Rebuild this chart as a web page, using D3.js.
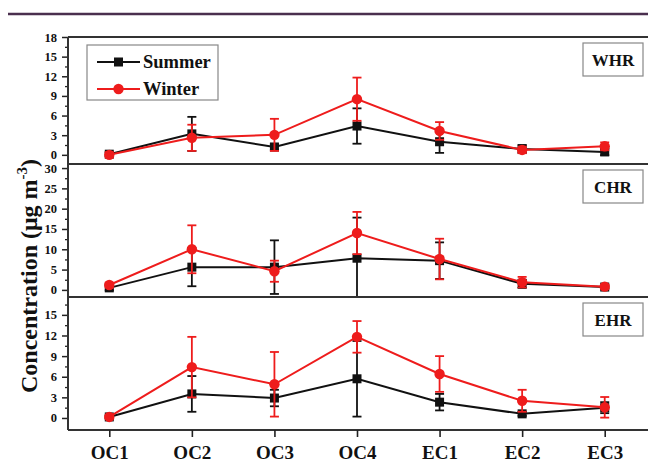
<!DOCTYPE html>
<html>
<head>
<meta charset="utf-8">
<script src="https://cdn.jsdelivr.net/npm/d3@7"></script>
<style>
  html, body { margin: 0; padding: 0; background: #fff; }
  svg { display: block; }
  text { font-family: "Liberation Serif", "Times New Roman", serif; font-weight: bold; fill: #111; }
</style>
</head>
<body>
<svg id="chart" width="648" height="462"></svg>
<script>
// Carbon fraction concentrations (µg m-3) at three sites, summer vs winter
const categories = ["OC1", "OC2", "OC3", "OC4", "EC1", "EC2", "EC3"];
const sites = ["WHR", "CHR", "EHR"];
const seasons = ["Summer", "Winter"];

const whrSummer    = [0.1, 3.2, 1.2, 4.4, 2.0, 0.9, 0.45];
const whrSummerErr = [0.3, 2.6, 0.4, 2.7, 1.7, 0.6, 0.5];
const whrWinter    = [0.0, 2.6, 3.05, 8.5, 3.65, 0.75, 1.3];
const whrWinterErr = [0.4, 2.0, 2.45, 3.3, 1.35, 0.5, 0.6];

const chrSummer    = [0.5, 5.6, 5.6, 7.8, 7.2, 1.5, 0.7];
const chrSummerErr = [0.6, 4.7, 6.6, 10.0, 4.5, 1.0, 0.4];
const chrWinter    = [1.2, 10.0, 4.6, 14.0, 7.6, 1.9, 0.8];
const chrWinterErr = [0.6, 5.9, 2.6, 5.2, 5.0, 1.3, 0.5];

const ehrSummer    = [0.15, 3.5, 2.9, 5.7, 2.3, 0.6, 1.5];
const ehrSummerErr = [0.2, 2.6, 1.2, 5.5, 1.2, 0.3, 0.8];
const ehrWinter    = [0.15, 7.4, 4.9, 11.8, 6.4, 2.5, 1.55];
const ehrWinterErr = [0.2, 4.4, 4.7, 2.3, 2.6, 1.6, 1.5];

const whrTicks = [0, 3, 6, 9, 12, 15, 18];
const chrTicks = [0, 5, 10, 15, 20, 25, 30];
const ehrTicks = [0, 3, 6, 9, 12, 15];

const panels = [
  { name: sites[0], summer: whrSummer, sErr: whrSummerErr, winter: whrWinter, wErr: whrWinterErr,
    ticks: whrTicks, minor: 1.5, domain: [-1.4, 18], top: 37, bottom: 164 },
  { name: sites[1], summer: chrSummer, sErr: chrSummerErr, winter: chrWinter, wErr: chrWinterErr,
    ticks: chrTicks, minor: 2.5, domain: [-1.75, 31], top: 164, bottom: 297 },
  { name: sites[2], summer: ehrSummer, sErr: ehrSummerErr, winter: ehrWinter, wErr: ehrWinterErr,
    ticks: ehrTicks, minor: 1.5, domain: [-1.75, 17.6], top: 297, bottom: 430 }
];

const colors = { Summer: "#111111", Winter: "#ee1c1c" };
const left = 68, right = 648;

const svg = d3.select("#chart");

// header rule
svg.append("line").attr("x1", 8).attr("x2", 648).attr("y1", 14).attr("y2", 14)
  .attr("stroke", "#4a2f4e").attr("stroke-width", 2.5);

const x = d3.scalePoint().domain(categories).range([left, 646]).padding(0.5);

panels.forEach((p, pi) => {
  const y = d3.scaleLinear().domain(p.domain).range([p.bottom, p.top]);
  const g = svg.append("g");

  const clipId = "clip" + pi;
  svg.append("clipPath").attr("id", clipId).append("rect")
    .attr("x", left).attr("y", p.top).attr("width", right - left).attr("height", p.bottom - p.top);

  // minor ticks
  const minorVals = d3.range(0, p.domain[1] + 0.001, p.minor).filter(v => !p.ticks.some(t => Math.abs(t - v) < 1e-6));
  g.append("g").attr("transform", `translate(${left},0)`)
    .call(d3.axisLeft(y).tickValues(minorVals).tickSize(3).tickFormat(""))
    .call(a => a.select(".domain").remove())
    .selectAll("line").attr("stroke", "#222").attr("stroke-width", 1.3);

  // major ticks with labels
  const ax = g.append("g").attr("transform", `translate(${left},0)`)
    .call(d3.axisLeft(y).tickValues(p.ticks).tickSize(6).tickPadding(5).tickFormat(d3.format("d")));
  ax.select(".domain").remove();
  ax.selectAll("line").attr("stroke", "#222").attr("stroke-width", 1.5);
  ax.selectAll("text").attr("font-size", 12.5).attr("font-family", "Liberation Serif, serif")
    .attr("font-weight", "bold").attr("fill", "#111");

  const plot = g.append("g").attr("clip-path", `url(#${clipId})`);

  seasons.forEach(season => {
    const vals = season === "Summer" ? p.summer : p.winter;
    const errs = season === "Summer" ? p.sErr : p.wErr;
    const col = colors[season];
    const pts = categories.map((c, i) => ({ c, v: vals[i], e: errs[i] }));

    // error bars
    const eb = plot.append("g").attr("stroke", col).attr("stroke-width", 1.8);
    pts.forEach(d => {
      eb.append("line").attr("x1", x(d.c)).attr("x2", x(d.c))
        .attr("y1", y(d.v - d.e)).attr("y2", y(d.v + d.e));
      [d.v - d.e, d.v + d.e].forEach(v => {
        eb.append("line").attr("x1", x(d.c) - 4.5).attr("x2", x(d.c) + 4.5)
          .attr("y1", y(v)).attr("y2", y(v));
      });
    });

    // connecting line
    plot.append("path").datum(pts)
      .attr("fill", "none").attr("stroke", col).attr("stroke-width", 2)
      .attr("d", d3.line().x(d => x(d.c)).y(d => y(d.v)));

    // markers
    if (season === "Summer") {
      plot.selectAll(null).data(pts).enter().append("rect")
        .attr("x", d => x(d.c) - 4.5).attr("y", d => y(d.v) - 4.5)
        .attr("width", 9).attr("height", 9).attr("fill", col);
    } else {
      plot.selectAll(null).data(pts).enter().append("circle")
        .attr("cx", d => x(d.c)).attr("cy", d => y(d.v)).attr("r", 5.2).attr("fill", col);
    }
  });

  // panel frame
  g.append("line").attr("x1", left).attr("x2", right).attr("y1", p.top).attr("y2", p.top)
    .attr("stroke", "#333").attr("stroke-width", 2);
  g.append("line").attr("x1", left).attr("x2", left).attr("y1", p.top).attr("y2", p.bottom)
    .attr("stroke", "#333").attr("stroke-width", 2);

  // site label
  const lb = g.append("g").attr("transform", `translate(583,${p.top + 6})`);
  lb.append("rect").attr("width", 60).attr("height", 33).attr("fill", "#fff")
    .attr("stroke", "#888").attr("stroke-width", 1.2);
  lb.append("text").attr("x", 30).attr("y", 22.5).attr("text-anchor", "middle")
    .attr("font-size", 17).text(p.name);
});

// bottom axis
const last = panels[panels.length - 1];
const xa = svg.append("g").attr("transform", `translate(0,${last.bottom})`)
  .call(d3.axisBottom(x).tickSize(7).tickPadding(9));
xa.select(".domain").attr("stroke", "#333").attr("stroke-width", 2).attr("d", `M${left},0H${right}`);
xa.selectAll("line").attr("stroke", "#222").attr("stroke-width", 1.6);
xa.selectAll("text").attr("font-size", 19).attr("font-family", "Liberation Serif, serif")
  .attr("font-weight", "bold").attr("fill", "#111");

// legend
const leg = svg.append("g").attr("transform", "translate(87,45)");
leg.append("rect").attr("width", 131).attr("height", 55).attr("fill", "#fff")
  .attr("stroke", "#888").attr("stroke-width", 1.2);
seasons.forEach((s, i) => {
  const yy = 17 + i * 27;
  leg.append("line").attr("x1", 10).attr("x2", 53).attr("y1", yy).attr("y2", yy)
    .attr("stroke", colors[s]).attr("stroke-width", 2);
  if (s === "Summer") {
    leg.append("rect").attr("x", 27).attr("y", yy - 4.5).attr("width", 9).attr("height", 9).attr("fill", colors[s]);
  } else {
    leg.append("circle").attr("cx", 31.5).attr("cy", yy).attr("r", 5.2).attr("fill", colors[s]);
  }
  leg.append("text").attr("x", 56).attr("y", yy + 6).attr("font-size", 18.5).text(s);
});

// y-axis title, rotated, with superscript exponent
const yt = svg.append("text").attr("transform", "translate(37,393) rotate(-90)")
  .attr("font-size", 24);
yt.append("tspan").text("Concentration (μg m");
yt.append("tspan").attr("dy", -10).attr("font-size", 15).text("-3");
yt.append("tspan").attr("dy", 10).text(")");
</script>
</body>
</html>
